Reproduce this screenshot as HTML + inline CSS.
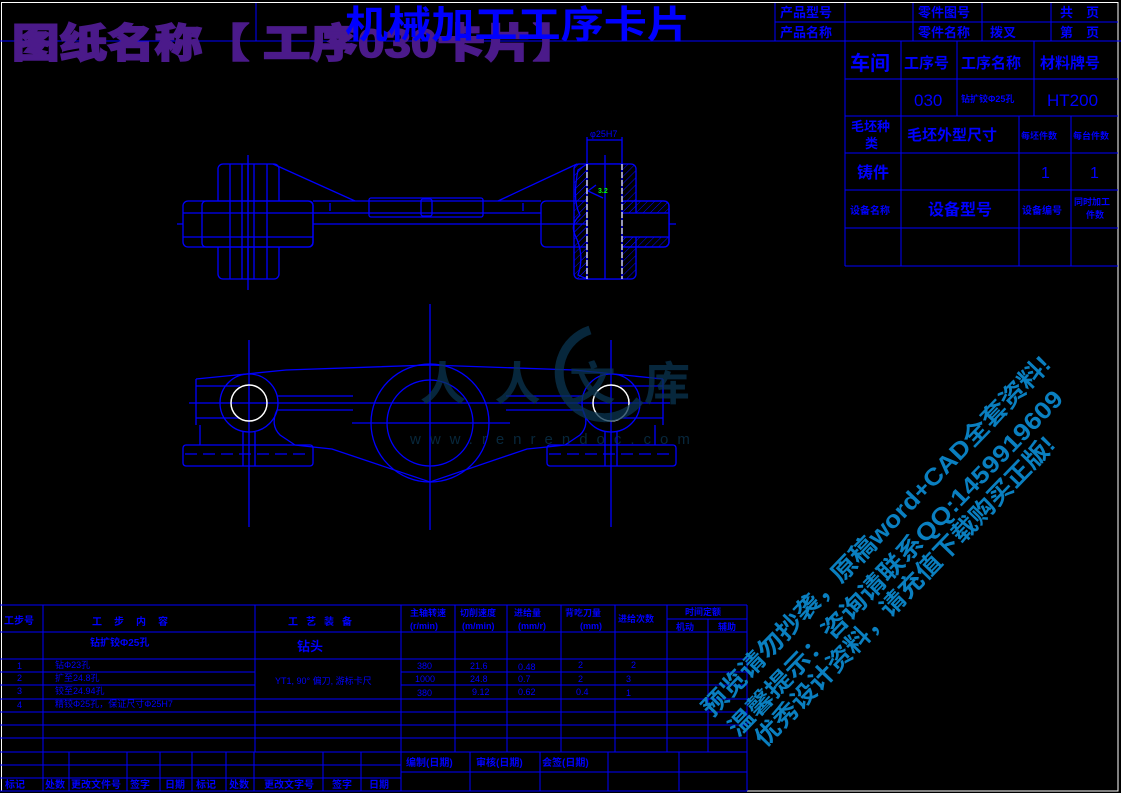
<!DOCTYPE html>
<html><head><meta charset="utf-8"><style>
html,body{margin:0;padding:0;background:#000;}
svg{display:block}
text{font-family:"Liberation Sans","Noto Sans CJK SC",sans-serif;}
</style></head><body>
<svg width="1121" height="793" viewBox="0 0 1121 793" xmlns="http://www.w3.org/2000/svg">
<defs>
<pattern id="h" width="5" height="5" patternUnits="userSpaceOnUse" patternTransform="rotate(45)"><line x1="0" y1="0" x2="0" y2="5" stroke="#0000ff" stroke-width="1"/></pattern>
</defs>
<rect width="1121" height="793" fill="#000"/>
<rect x="1.5" y="2.5" width="1116.5" height="788.5" fill="none" stroke="#fff" stroke-width="1"/>

<!-- header -->
<g stroke="#0000ff" stroke-width="1" fill="none">
<line x1="0" y1="41" x2="1121" y2="41"/>
<line x1="256" y1="3" x2="256" y2="41"/>
<line x1="775" y1="3" x2="775" y2="41"/>
<line x1="775" y1="22" x2="1118" y2="22"/>
<line x1="845" y1="3" x2="845" y2="266"/>
<line x1="913" y1="3" x2="913" y2="41"/>
<line x1="982" y1="3" x2="982" y2="41"/>
<line x1="1051" y1="3" x2="1051" y2="41"/>
<line x1="845" y1="79" x2="1118" y2="79"/>
<line x1="845" y1="116" x2="1118" y2="116"/>
<line x1="845" y1="153" x2="1118" y2="153"/>
<line x1="845" y1="190" x2="1118" y2="190"/>
<line x1="845" y1="228" x2="1118" y2="228"/>
<line x1="845" y1="266" x2="1118" y2="266"/>
<line x1="901" y1="41" x2="901" y2="266"/>
<line x1="957" y1="41" x2="957" y2="116"/>
<line x1="1034" y1="41" x2="1034" y2="116"/>
<line x1="1019" y1="116" x2="1019" y2="266"/>
<line x1="1071" y1="116" x2="1071" y2="266"/>
</g>
<text x="12" y="57" font-size="40" font-weight="900" fill="#4b1a8a" stroke="#4b1a8a" stroke-width="1.5" font-family="'Noto Serif CJK SC',serif" textLength="568" lengthAdjust="spacingAndGlyphs">图纸名称【 工序030卡片】</text>
<text x="345" y="38" font-size="38" font-weight="bold" fill="#0000ff" textLength="345" lengthAdjust="spacingAndGlyphs">机械加工工序卡片</text>
<g fill="#0000ff" font-size="13" font-weight="bold">
<text x="780" y="17">产品型号</text><text x="918" y="17">零件图号</text><text x="1060" y="17">共　页</text>
<text x="780" y="37">产品名称</text><text x="918" y="37">零件名称</text><text x="990" y="37">拨叉</text><text x="1060" y="37">第　页</text>
<text x="850" y="70" font-size="20">车间</text><text x="904" y="68" font-size="15">工序号</text><text x="961" y="68" font-size="15">工序名称</text><text x="1040" y="68" font-size="15">材料牌号</text>
<text x="914" y="106" font-size="17" font-weight="normal">030</text><text x="961" y="102" font-size="9">钻扩铰Φ25孔</text><text x="1047" y="106" font-size="17" font-weight="normal">HT200</text>
<text x="851" y="131" font-size="13">毛坯种</text><text x="865" y="148" font-size="13">类</text>
<text x="907" y="140" font-size="15">毛坯外型尺寸</text><text x="1021" y="139" font-size="9">每坯件数</text><text x="1073" y="139" font-size="9">每台件数</text>
<text x="857" y="178" font-size="16">铸件</text><text x="1041" y="178" font-size="16" font-weight="normal">1</text><text x="1090" y="178" font-size="16" font-weight="normal">1</text>
<text x="850" y="214" font-size="10">设备名称</text><text x="928" y="215" font-size="16">设备型号</text><text x="1022" y="214" font-size="10">设备编号</text>
<text x="1074" y="205" font-size="9">同时加工</text><text x="1086" y="218" font-size="9">件数</text>
</g>

<!-- top view drawing -->
<g stroke="#0000ff" stroke-width="1.3" fill="none">
<line x1="177" y1="224" x2="676" y2="224"/>
<line x1="248" y1="155" x2="248" y2="290"/>
<rect x="218" y="164" width="61" height="115" rx="5"/>
<rect x="183" y="201" width="130" height="46" rx="5" fill="#000"/>
<rect x="202" y="201" width="111" height="46" rx="4"/>
<line x1="183" y1="213" x2="313" y2="213"/><line x1="183" y1="237" x2="313" y2="237"/>
<line x1="230" y1="164" x2="230" y2="279"/><line x1="242" y1="164" x2="242" y2="279"/>
<line x1="254" y1="164" x2="254" y2="279"/><line x1="267" y1="164" x2="267" y2="279"/>
<line x1="248" y1="164" x2="248" y2="279"/>
<line x1="273" y1="164" x2="355" y2="201"/>
<line x1="577" y1="164" x2="498" y2="201"/>
<line x1="313" y1="201" x2="541" y2="201"/><line x1="313" y1="213" x2="541" y2="213"/>
<rect x="369" y="198" width="114" height="19" rx="2"/>
<rect x="421" y="199" width="11" height="17" rx="2"/>
<line x1="330" y1="203" x2="330" y2="211"/><line x1="523" y1="203" x2="523" y2="211"/>
<rect x="541" y="201" width="128" height="46" rx="5"/>
<rect x="574" y="164" width="62" height="115" rx="5" fill="url(#h)"/>
<rect x="620" y="201" width="49" height="46" rx="5" fill="url(#h)"/>
<rect x="620" y="213" width="49" height="24" fill="#000"/>
<path d="M578 170 Q572 200 580 215 Q570 224 575 235 Q585 255 578 275 L587 279 L587 164 Z" fill="url(#h)"/>
<rect x="587" y="164" width="35" height="115" fill="#000"/>
<line x1="605" y1="155" x2="605" y2="279"/>
<line x1="587" y1="137" x2="587" y2="164"/><line x1="622" y1="137" x2="622" y2="164"/>
<line x1="587" y1="140" x2="622" y2="140"/>
<line x1="588" y1="191" x2="596" y2="185"/><line x1="588" y1="191" x2="603" y2="198"/>
</g>
<g stroke="#fff" stroke-width="1.2" stroke-dasharray="6,2"><line x1="587" y1="164" x2="587" y2="279"/><line x1="622" y1="164" x2="622" y2="279"/></g>
<text x="590" y="137" font-size="9" fill="#0000ff">φ25H7</text>
<text x="598" y="193" font-size="7" fill="#00ff00" font-weight="bold">3.2</text>

<!-- bottom view drawing -->
<g stroke="#0000ff" stroke-width="1.3" fill="none">
<line x1="189" y1="403" x2="670" y2="403"/>
<line x1="249" y1="340" x2="249" y2="527"/><line x1="430" y1="304" x2="430" y2="530"/><line x1="611" y1="340" x2="611" y2="527"/>
<line x1="352" y1="423" x2="510" y2="423"/>
<circle cx="249" cy="403" r="29"/><circle cx="611" cy="403" r="29"/>
<circle cx="430" cy="423" r="59"/><circle cx="430" cy="423" r="43"/>
<path d="M196 379 L286 370 L430 365 L574 370 L663 379"/>
<path d="M196 379 L196 425 M663 379 L663 425"/>
<path d="M196 386 L240 386 M196 418 L240 418 M620 386 L663 386 M620 418 L663 418"/>
<path d="M277 396 L353 396 M277 410 L353 410 M506 396 L583 396 M506 410 L583 410"/>
<path d="M277 410 Q270 425 280 435 L295 445 L313 447"/>
<path d="M583 410 Q590 425 580 435 L565 445 L547 447"/>
<rect x="183" y="445" width="130" height="21" rx="3"/>
<rect x="547" y="445" width="129" height="21" rx="3"/>
<path d="M313 447 L332 449 L430 482 L527 449 L547 447"/>
<line x1="243" y1="432" x2="243" y2="466"/><line x1="255" y1="432" x2="255" y2="466"/>
<line x1="605" y1="432" x2="605" y2="466"/><line x1="617" y1="432" x2="617" y2="466"/>
<path d="M200 425 L200 445 M655 425 L655 445"/>
</g>
<g stroke="#0000ff" stroke-width="1.3" stroke-dasharray="12,6"><line x1="185" y1="454" x2="311" y2="454"/><line x1="549" y1="454" x2="674" y2="454"/></g>
<g stroke="#fff" stroke-width="1.5" fill="none"><circle cx="249" cy="403" r="18"/><circle cx="611" cy="403" r="18"/></g>

<!-- watermark logo -->
<g opacity="0.75">
<path d="M590 330 A45 45 0 1 0 640 400" stroke="#0a3550" stroke-width="9" fill="none"/>
<text x="420" y="400" font-size="46" fill="#0a3550" font-weight="bold" textLength="270">人人文库</text>
<text x="410" y="444" font-size="15" fill="#0a3550" letter-spacing="9">www.renrendoc.com</text>
</g>

<!-- bottom table -->
<g stroke="#0000ff" stroke-width="1" fill="none">
<line x1="0" y1="605" x2="747" y2="605"/>
<line x1="0" y1="632" x2="747" y2="632"/>
<line x1="0" y1="659" x2="747" y2="659"/>
<line x1="0" y1="672" x2="255" y2="672"/><line x1="401" y1="672" x2="747" y2="672"/>
<line x1="0" y1="685" x2="255" y2="685"/><line x1="401" y1="685" x2="747" y2="685"/>
<line x1="0" y1="699" x2="747" y2="699"/>
<line x1="0" y1="712" x2="747" y2="712"/>
<line x1="0" y1="725" x2="747" y2="725"/>
<line x1="0" y1="738" x2="747" y2="738"/>
<line x1="0" y1="752" x2="747" y2="752"/>
<line x1="0" y1="765" x2="401" y2="765"/>
<line x1="0" y1="778" x2="401" y2="778"/>
<line x1="401" y1="772" x2="747" y2="772"/>
<line x1="0" y1="791" x2="747" y2="791"/>
<line x1="667" y1="619" x2="747" y2="619"/>
<line x1="43" y1="605" x2="43" y2="791"/>
<line x1="255" y1="605" x2="255" y2="752"/>
<line x1="401" y1="605" x2="401" y2="791"/>
<line x1="455" y1="605" x2="455" y2="752"/>
<line x1="507" y1="605" x2="507" y2="752"/>
<line x1="561" y1="605" x2="561" y2="752"/>
<line x1="615" y1="605" x2="615" y2="752"/>
<line x1="667" y1="605" x2="667" y2="752"/>
<line x1="708" y1="619" x2="708" y2="752"/>
<line x1="747" y1="605" x2="747" y2="791"/>
<line x1="69" y1="752" x2="69" y2="791"/><line x1="127" y1="752" x2="127" y2="791"/>
<line x1="160" y1="752" x2="160" y2="791"/><line x1="192" y1="752" x2="192" y2="791"/>
<line x1="226" y1="752" x2="226" y2="791"/><line x1="254" y1="752" x2="254" y2="791"/>
<line x1="323" y1="752" x2="323" y2="791"/><line x1="361" y1="752" x2="361" y2="791"/>
<line x1="470" y1="752" x2="470" y2="791"/><line x1="540" y1="752" x2="540" y2="791"/>
<line x1="608" y1="752" x2="608" y2="791"/><line x1="679" y1="752" x2="679" y2="791"/>
</g>
<g fill="#0000ff" font-size="10" font-weight="bold">
<text x="4" y="624">工步号</text>
<text x="92" y="625" letter-spacing="12">工步内容</text>
<text x="288" y="625" letter-spacing="8">工艺装备</text>
<text x="410" y="616" font-size="9">主轴转速</text><text x="410" y="629" font-size="9">(r/min)</text>
<text x="460" y="616" font-size="9">切削速度</text><text x="462" y="629" font-size="9">(m/min)</text>
<text x="514" y="616" font-size="9">进给量</text><text x="518" y="629" font-size="9">(mm/r)</text>
<text x="565" y="616" font-size="9">背吃刀量</text><text x="580" y="629" font-size="9">(mm)</text>
<text x="618" y="622" font-size="9">进给次数</text>
<text x="685" y="615" font-size="9">时间定额</text>
<text x="676" y="630" font-size="9">机动</text><text x="718" y="630" font-size="9">辅助</text>
<text x="90" y="646">钻扩铰Φ25孔</text>
<text x="297" y="651" font-size="13">钻头</text>
<g font-weight="normal" font-size="9">
<text x="17" y="669">1</text><text x="55" y="668">钻Φ23孔</text>
<text x="17" y="681">2</text><text x="55" y="681">扩至24.8孔</text>
<text x="17" y="694">3</text><text x="55" y="694">铰至24.94孔</text>
<text x="17" y="708">4</text><text x="55" y="707">精铰Φ25孔，保证尺寸Φ25H7</text>
<text x="275" y="684">YT1, 90° 偏刀, 游标卡尺</text>
<text x="417" y="669">380</text><text x="470" y="669">21.6</text><text x="518" y="670">0.48</text><text x="578" y="668">2</text><text x="631" y="668">2</text>
<text x="415" y="682">1000</text><text x="470" y="682">24.8</text><text x="518" y="682">0.7</text><text x="578" y="682">2</text><text x="626" y="682">3</text>
<text x="417" y="696">380</text><text x="472" y="695">9.12</text><text x="518" y="695">0.62</text><text x="576" y="695">0.4</text><text x="626" y="696">1</text>
</g>
<text x="406" y="766">编制(日期)</text><text x="476" y="766">审核(日期)</text><text x="542" y="766">会签(日期)</text>
<text x="5" y="788">标记</text><text x="45" y="788">处数</text><text x="71" y="788">更改文件号</text><text x="130" y="788">签字</text>
<text x="165" y="788">日期</text><text x="196" y="788">标记</text><text x="229" y="788">处数</text><text x="264" y="788">更改文字号</text>
<text x="332" y="788">签字</text><text x="369" y="788">日期</text>
</g>

<!-- diagonal watermark -->
<g fill="#0a7fc0" font-weight="bold" font-family="'Noto Serif CJK SC',serif" font-size="24">
<text x="712" y="718" transform="rotate(-46 712 718)" textLength="490" lengthAdjust="spacingAndGlyphs">预览请勿抄袭，原稿word+CAD全套资料!</text>
<text x="738" y="738" transform="rotate(-46 738 738)" textLength="470" lengthAdjust="spacingAndGlyphs">温馨提示：咨询请联系QQ:1459919609</text>
<text x="765" y="748" transform="rotate(-46 765 748)" textLength="420" lengthAdjust="spacingAndGlyphs">优秀设计资料，请充值下载购买正版!</text>
</g>
</svg>
</body></html>
